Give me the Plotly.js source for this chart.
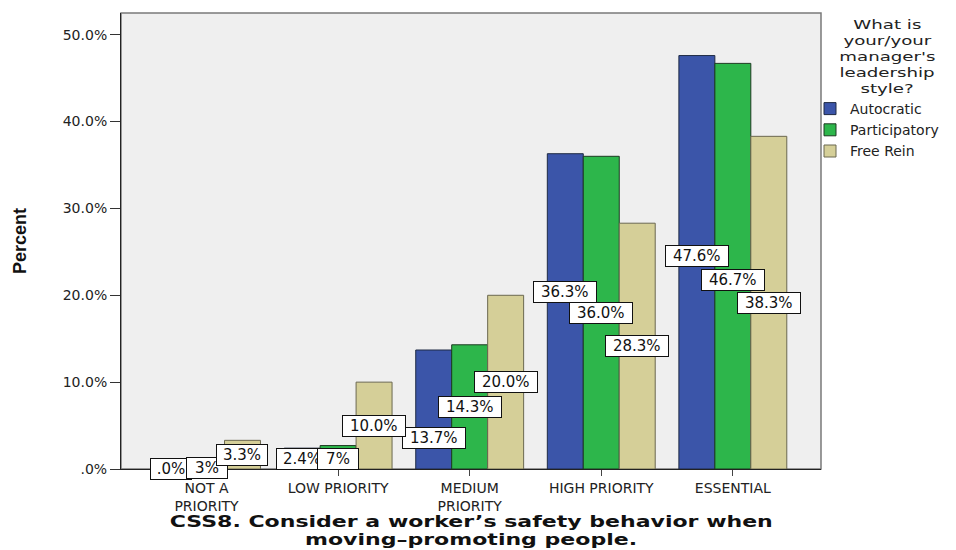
<!DOCTYPE html>
<html>
<head>
<meta charset="utf-8">
<script src="https://cdn.plot.ly/plotly-3.0.1.min.js"></script>
<style>html,body{margin:0;padding:0;background:#fff;}#chart{width:956px;height:550px;}</style>
</head>
<body>
<div id="chart"></div>
<script>
// ---- data ----
const categories = ["NOT A<br>PRIORITY", "LOW PRIORITY", "MEDIUM<br>PRIORITY", "HIGH PRIORITY", "ESSENTIAL"];
const seriesNames = ["Autocratic", "Participatory", "Free Rein"];
const autocratic = [0.0, 2.4, 13.7, 36.3, 47.6];
const participatory = [1.3, 2.7, 14.3, 36.0, 46.7];
const freeRein = [3.3, 10.0, 20.0, 28.3, 38.3];
// label texts as they appear in the reference (overlapping labels are clipped there)
const autocraticLabels = [".0%", "2.4%", "13.7%", "36.3%", "47.6%"];
const participatoryLabels = ["3%", "7%", "14.3%", "36.0%", "46.7%"];
const freeReinLabels = ["3.3%", "10.0%", "20.0%", "28.3%", "38.3%"];
const yTickVals = [0, 10, 20, 30, 40, 50];
const yTickText = [".0%", "10.0%", "20.0%", "30.0%", "40.0%", "50.0%"];
const legendTitleLines = ["What is", "your/your", "manager's", "leadership", "style?"];
const xTitleLines = ["CSS8. Consider a worker\u2019s safety behavior when", "moving\u2013promoting people."];
const yTitle = "Percent";

// ---- style ----
const colors = ["#3b55a9", "#2db64b", "#d5cf98"];
const outline = ["#1f2a44", "#1d3b22", "#6b6850"];
// label vertical nudges (in % units) mimicking the collision avoidance in the original
const nudges = [
  [0, 0, -3.25, 2.25, 0.7],
  [-0.55, -0.2, 0, 0, -1.55],
  [0, 0, 0, 0, 0]
];
const bargap = 0.18;
const font = "DejaVu Sans, Liberation Sans, Arial, sans-serif";
const plotTop = 13, plotH = 456, plotL = 121, plotW = 700;
const py = px => 1 - (px - plotTop) / plotH;   // pixel row -> paper y
const pxX = px => (px - plotL) / plotW;        // pixel col -> paper x

const values = [autocratic, participatory, freeRein];
const labels = [autocraticLabels, participatoryLabels, freeReinLabels];

const traces = values.map((vals, j) => ({
  type: "bar",
  name: seriesNames[j],
  x: categories,
  y: vals,
  marker: {color: colors[j], line: {color: outline[j], width: 1}},
  hoverinfo: "skip"
}));

const barW = (1 - bargap) / 3;
const annotations = [];
values.forEach((vals, j) => {
  vals.forEach((v, i) => {
    const t = labels[j][i];
    annotations.push({
      x: i + (j - 1) * barW,
      y: v / 2 + nudges[j][i],
      xref: "x", yref: "y",
      text: t,
      showarrow: false,
      font: {family: font, size: 15, color: "#111"},
      bgcolor: "#ffffff",
      bordercolor: "#111111",
      borderwidth: 1,
      borderpad: 1,
      width: Math.max(38, t.length * 11.5 + 2),
      height: 18,
      xanchor: "center", yanchor: "middle"
    });
  });
});

const xTitleStart = annotations.length;
const xTitleRows = [522, 540];
xTitleLines.forEach((t, k) => annotations.push({
  xref: "paper", yref: "paper", x: pxX(471), y: py(xTitleRows[k]),
  text: t, showarrow: false, xanchor: "center", yanchor: "middle",
  font: {family: "DejaVu Sans, Verdana, sans-serif", size: 15, color: "#111", weight: "bold"}
}));

const legTitleStart = annotations.length;
const legendRows = [25, 41, 57, 73, 89];
legendTitleLines.forEach((t, k) => annotations.push({
  xref: "paper", yref: "paper", x: pxX(887), y: py(legendRows[k]),
  text: t, showarrow: false, xanchor: "center", yanchor: "middle",
  font: {family: font, size: 13, color: "#222"}
}));

annotations.push({
  xref: "paper", yref: "paper", x: pxX(20), y: 0.5,
  text: "<b>" + yTitle + "</b>", textangle: -90, showarrow: false,
  xanchor: "center", yanchor: "middle",
  font: {family: "Liberation Sans Narrow, Liberation Sans, Arial, sans-serif", size: 18, color: "#111"}
});

const layout = {
  width: 956, height: 550,
  margin: {l: plotL, r: 956 - plotL - plotW, t: plotTop, b: 550 - plotTop - plotH},
  paper_bgcolor: "#ffffff",
  plot_bgcolor: "#efefef",
  barmode: "group",
  bargap: bargap,
  bargroupgap: 0,
  showlegend: true,
  xaxis: {
    type: "category",
    range: [-0.65, 4.67],
    showgrid: false, zeroline: false,
    showline: true, linecolor: "#222", linewidth: 1,
    ticks: "outside", ticklen: 6, tickcolor: "#444",
    tickfont: {family: font, size: 14, color: "#222"},
    fixedrange: true
  },
  yaxis: {
    range: [0, 52.5],
    tickvals: yTickVals, ticktext: yTickText,
    showgrid: false, zeroline: false,
    showline: true, linecolor: "#222", linewidth: 1,
    ticks: "outside", ticklen: 10, tickcolor: "#333",
    tickfont: {family: font, size: 14, color: "#222"},
    fixedrange: true
  },
  legend: {
    x: pxX(810), xanchor: "left", y: py(93), yanchor: "top",
    bgcolor: "rgba(0,0,0,0)",
    font: {family: font, size: 14, color: "#222"},
    itemwidth: 30,
    tracegroupgap: 0
  },
  shapes: [{
    type: "rect", xref: "paper", yref: "paper", x0: 0, x1: 1, y0: 0, y1: 1,
    line: {color: "#7a7a7a", width: 1.5}, fillcolor: "rgba(0,0,0,0)", layer: "below"
  }],
  annotations: annotations
};

// the original image is horizontally stretched; widen the glyphs of its titles similarly
const sel = (start, n) => Array.from({length: n}, (_, k) =>
  `.annotation[data-index="${start + k}"] text.annotation-text`).join(", ");
const css = document.createElement("style");
css.textContent =
  `${sel(xTitleStart, 2)} { transform-box: fill-box; transform-origin: center; transform: scaleX(1.47); }
   ${sel(legTitleStart, 5)} { transform-box: fill-box; transform-origin: center; transform: scaleX(1.4); }`;
document.head.appendChild(css);

Plotly.newPlot("chart", traces, layout, {displayModeBar: false, staticPlot: true});
</script>
</body>
</html>
